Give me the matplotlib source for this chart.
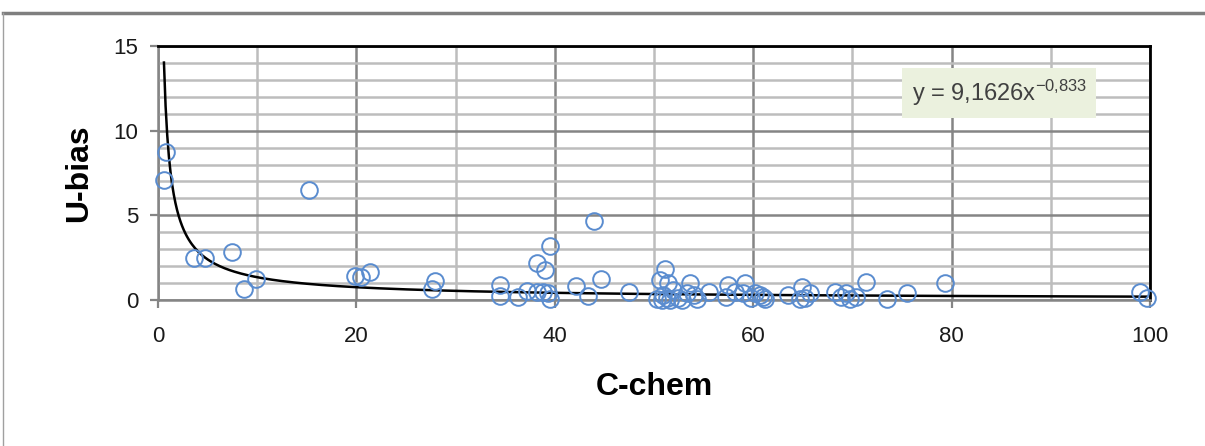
import numpy as np
import matplotlib
matplotlib.use("Agg")
import matplotlib.pyplot as plt
from matplotlib.lines import Line2D

plt.rcParams['font.family'] = ['Liberation Sans', 'DejaVu Sans']
plt.rcParams['mathtext.fontset'] = 'custom'
plt.rcParams['mathtext.rm'] = 'Liberation Sans'
plt.rcParams['mathtext.it'] = 'Liberation Sans:italic'

# 数据点 (C-chem, U-bias)
c_chem = [0.6, 0.8, 3.6, 4.7, 7.5, 8.7, 9.9, 15.2,
          19.9, 20.5, 21.4, 27.6, 27.9,
          34.5, 34.5, 36.3, 37.2, 38.2, 38.8, 39.3, 39.5,
          38.2, 39.0, 39.5, 44.0, 42.1, 43.3, 44.7, 47.5,
          50.3, 50.6, 50.8, 50.9, 51.1, 51.3, 51.4, 51.6, 51.9,
          52.4, 52.8, 53.3, 53.6, 54.3, 54.0, 55.5,
          57.3, 57.5, 58.2, 59.0, 59.2, 59.8, 60.2, 60.7, 61.2, 61.0,
          63.5, 64.7, 64.9, 65.2, 65.7,
          68.2, 68.9, 69.4, 69.8, 70.4, 71.4, 73.5, 75.5,
          79.3, 99.0, 99.7]
u_bias = [7.1, 8.75, 2.5, 2.5, 2.85, 0.63, 1.24, 6.5,
          1.42, 1.38, 1.65, 0.65, 1.1,
          0.89, 0.25, 0.2, 0.55, 0.49, 0.45, 0.39, 0.05,
          2.2, 1.77, 3.19, 4.69, 0.83, 0.25, 1.22, 0.5,
          0.05, 1.18, 0.0, 0.3, 1.81, 0.1, 0.98, 0.0, 0.59,
          0.1, 0.02, 0.4, 1.0, 0.03, 0.3, 0.49,
          0.2, 0.89, 0.49, 0.39, 0.98, 0.1, 0.39, 0.3, 0.05, 0.2,
          0.3, 0.05, 0.79, 0.1, 0.39,
          0.49, 0.2, 0.39, 0.05, 0.2, 1.08, 0.05, 0.39,
          0.98, 0.45, 0.1]

# 幂函数趋势线 y = a * x^b
trend_a = 9.1626
trend_b = -0.833
trend_label = r"y = 9,1626x$^{\mathrm{-0{,}833}}$"

fig = plt.figure(figsize=(12.05, 4.46), dpi=100)
ax = fig.add_axes([158 / 1205, 1 - 300 / 446, (1150 - 158) / 1205, (300 - 46) / 446])

# 网格
ax.set_xlim(0, 100)
ax.set_ylim(0, 15)
ax.set_xticks(np.arange(0, 101, 20))
ax.set_xticks(np.arange(0, 101, 10), minor=True)
ax.set_yticks([0, 5, 10, 15])
ax.set_yticks(np.arange(0, 16, 1), minor=True)
ax.grid(which='major', color='#858585', lw=1.8)
ax.grid(which='minor', color='#bdbdbd', lw=1.8)
ax.set_axisbelow(True)
ax.tick_params(which='minor', length=0)
ax.tick_params(which='major', length=6, width=1.6, color='#858585',
               labelsize=16, labelcolor='#1a1a1a')
ax.tick_params(axis='x', pad=13)
ax.tick_params(axis='y', pad=8)

for side in ['left', 'bottom']:
    ax.spines[side].set_color('#858585')
    ax.spines[side].set_linewidth(1.8)
for side in ['top', 'right']:
    ax.spines[side].set_color('black')
    ax.spines[side].set_linewidth(2)

# 趋势线
xs = np.linspace(min(c_chem), max(c_chem), 600)
ax.plot(xs, trend_a * xs ** trend_b, color='black', lw=1.8, zorder=3)

# 散点
ax.plot(c_chem, u_bias, 'o', mfc='none', mec='#5a8ccf', ms=12, mew=1.4,
        clip_on=False, zorder=4)

ax.set_xlabel("C-chem", fontsize=23, fontweight='bold', labelpad=18)
ax.set_ylabel("U-bias", fontsize=23, fontweight='bold', labelpad=14)

ax.text(0.848, 0.815, trend_label, transform=ax.transAxes, fontsize=17,
        color='#404040', ha='center', va='center', zorder=5,
        bbox=dict(boxstyle='square,pad=0.4', fc='#ebf1de', ec='none'))

# 外框
fig.add_artist(Line2D([3 / 1205, 1], [1 - 13 / 446] * 2, color='#7f7f7f', lw=2.5,
                      transform=fig.transFigure))
fig.add_artist(Line2D([3 / 1205] * 2, [0, 1 - 13 / 446], color='#a0a0a0', lw=1,
                      transform=fig.transFigure))

fig.savefig("out.png", dpi=100)
